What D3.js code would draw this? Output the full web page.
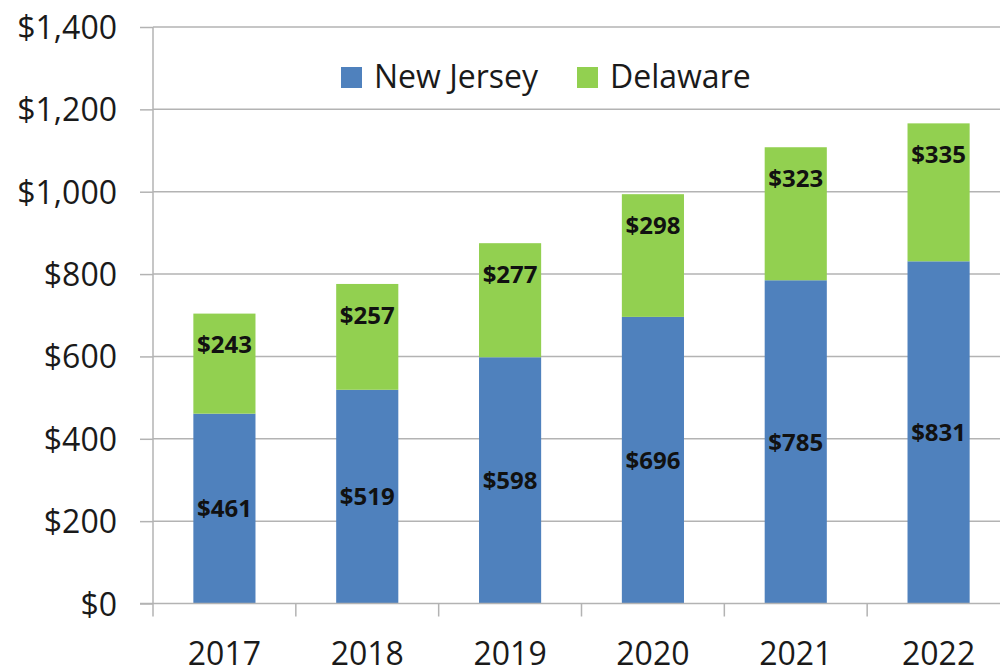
<!DOCTYPE html>
<html>
<head>
<meta charset="utf-8">
<script src="https://cdn.jsdelivr.net/npm/d3@7"></script>
<style>
  body { margin: 0; background: #fff; }
  svg { display: block; font-family: "Open Sans", sans-serif; }
</style>
</head>
<body>
<div id="chart"></div>
<script>
const years = ["2017", "2018", "2019", "2020", "2021", "2022"];
const newJersey = [461, 519, 598, 696, 785, 831];
const delaware = [243, 257, 277, 298, 323, 335];
const yTicks = [0, 200, 400, 600, 800, 1000, 1200, 1400];
const seriesNames = ["New Jersey", "Delaware"];
const colors = ["#4f81bd", "#92d050"];

const W = 1000, H = 672;
const margin = {top: 27, right: -10, bottom: 68.5, left: 153};
const width = W - margin.left - margin.right;
const height = H - margin.top - margin.bottom;

const svg = d3.select("#chart").append("svg")
    .attr("width", W)
    .attr("height", H);

const g = svg.append("g")
    .attr("transform", `translate(${margin.left},${margin.top})`);

const x = d3.scaleBand()
    .domain(years)
    .range([0, width])
    .paddingInner(0.565)
    .paddingOuter(0.2825);

const y = d3.scaleLinear()
    .domain([0, 1400])
    .range([height, 0]);

// gridlines + y labels
const yAxis = g.append("g")
    .call(d3.axisLeft(y).tickValues(yTicks).tickSize(13)
        .tickFormat(d => "$" + d3.format(",")(d)))
    .attr("font-family", "'Open Sans', sans-serif");
yAxis.select(".domain").remove();
yAxis.selectAll(".tick line").attr("stroke", "#b3b3b3").attr("stroke-width", 1.5);
yAxis.selectAll(".tick text")
    .attr("x", -36)
    .attr("dy", "0.36em")
    .attr("fill", "#1a1a1a")
    .style("font-size", "32px");

g.append("g")
    .selectAll("line")
    .data(yTicks.slice(1))
    .enter()
    .append("line")
    .attr("x1", 0)
    .attr("x2", width)
    .attr("y1", d => y(d))
    .attr("y2", d => y(d))
    .attr("stroke", "#b3b3b3")
    .attr("stroke-width", 1.5);

// stacked bars
const rows = years.map((yr, i) => ({year: yr, nj: newJersey[i], de: delaware[i]}));
const stack = d3.stack().keys(["nj", "de"])(rows);

g.selectAll(".series")
    .data(stack)
    .enter()
    .append("g")
    .attr("fill", (d, i) => colors[i])
    .selectAll("rect")
    .data(d => d)
    .enter()
    .append("rect")
    .attr("x", d => x(d.data.year))
    .attr("y", d => y(d[1]))
    .attr("width", x.bandwidth())
    .attr("height", d => y(d[0]) - y(d[1]));

// value labels
g.selectAll(".lab-nj")
    .data(rows)
    .enter()
    .append("text")
    .attr("x", d => x(d.year) + x.bandwidth() / 2)
    .attr("y", d => (y(0) + y(d.nj)) / 2)
    .attr("dy", "0.36em")
    .attr("text-anchor", "middle")
    .style("font-size", "24px")
    .style("font-weight", "bold")
    .attr("fill", "#111")
    .text(d => "$" + d.nj);

g.selectAll(".lab-de")
    .data(rows)
    .enter()
    .append("text")
    .attr("x", d => x(d.year) + x.bandwidth() / 2)
    .attr("y", d => y(d.nj + d.de) + 31)
    .attr("dy", "0.36em")
    .attr("text-anchor", "middle")
    .style("font-size", "24px")
    .style("font-weight", "bold")
    .attr("fill", "#111")
    .text(d => "$" + d.de);

// x axis
const xAxis = g.append("g")
    .attr("transform", `translate(0,${height})`);
xAxis.append("line")
    .attr("x1", -13).attr("x2", width)
    .attr("stroke", "#b3b3b3").attr("stroke-width", 1.5);
xAxis.selectAll(".xt")
    .data(d3.range(years.length))
    .enter()
    .append("line")
    .attr("x1", i => i * x.step())
    .attr("x2", i => i * x.step())
    .attr("y1", 0).attr("y2", 13)
    .attr("stroke", "#b3b3b3").attr("stroke-width", 1.5);
xAxis.selectAll(".xl")
    .data(years)
    .enter()
    .append("text")
    .attr("x", d => x(d) + x.bandwidth() / 2)
    .attr("y", 61)
    .attr("text-anchor", "middle")
    .attr("fill", "#1a1a1a")
    .style("font-size", "32px")
    .text(d => d);

// y axis line
g.append("line")
    .attr("x1", 0).attr("x2", 0)
    .attr("y1", 0).attr("y2", height)
    .attr("stroke", "#b3b3b3").attr("stroke-width", 1.5);

// legend
const legend = svg.append("g").attr("transform", "translate(341,67)");
const legendX = [0, 236];
seriesNames.forEach((name, i) => {
    const item = legend.append("g").attr("transform", `translate(${legendX[i]},0)`);
    item.append("rect")
        .attr("width", 21).attr("height", 21)
        .attr("fill", colors[i]);
    item.append("text")
        .attr("x", 33)
        .attr("y", 21)
        .attr("fill", "#1a1a1a")
        .style("font-size", "32px")
        .text(name);
});
</script>
</body>
</html>
